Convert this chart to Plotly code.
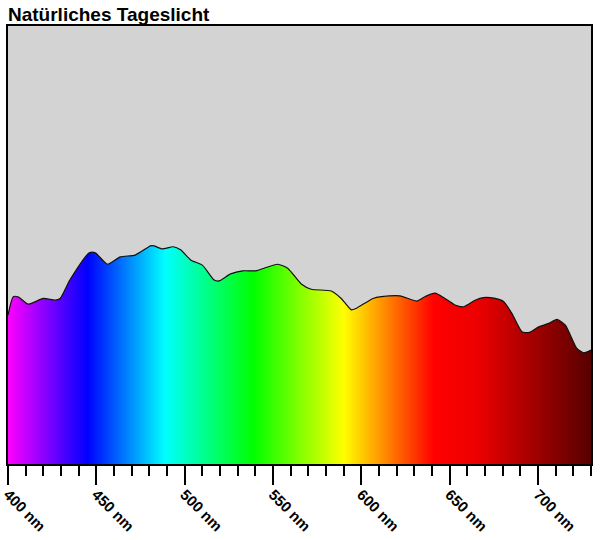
import plotly.graph_objects as go

# Wavelength (nm) and relative intensity
wavelength = [400, 403, 406, 411.5, 420, 426.7, 429.5, 435, 446, 449.4, 456.4, 463.6,
              472, 480.7, 482.6, 487.3, 493.6, 497.7, 503.4, 510, 516.7, 519.5, 526,
              532.8, 540.3, 545, 552.7, 558.3, 566, 571.6, 583, 588.6, 594.3, 597,
              606.6, 611.4, 621.8, 631.3, 636, 641.7, 647.3, 653, 657.8, 664.4, 669.1,
              675.8, 680.5, 685.2, 690.9, 694.7, 700.4, 706, 710.8, 715.5, 722, 725.9, 730]
intensity = [34.0, 38.2, 38.1, 36.5, 37.8, 37.4, 37.8, 42.0, 48.2, 48.2, 45.6, 47.3,
             47.7, 49.8, 49.8, 49.1, 49.6, 48.9, 46.6, 45.4, 42.0, 41.8, 43.4,
             44.1, 44.1, 44.7, 45.6, 44.7, 41.1, 39.9, 39.5, 37.8, 35.2, 35.5,
             37.8, 38.2, 38.4, 37.2, 38.2, 39.0, 37.8, 36.3, 35.9, 37.4, 38.0,
             37.8, 37.1, 34.4, 30.2, 30.0, 31.3, 32.1, 33.0, 31.7, 26.4, 25.4, 26.0]

tick_vals = [400, 450, 500, 550, 600, 650, 700]
tick_text = [f"{v} nm" for v in tick_vals]

# spectrum colour stops (wavelength, colour)
spec_nm = [400, 445, 489, 539, 590, 641, 665, 730]
spec_col = ["#ff00ff", "#0000ff", "#00ffff", "#00ff00", "#ffff00", "#ff0000", "#ee0000", "#580000"]

x_min, x_max = 400, 730
colorscale = [[(w - x_min) / (x_max - x_min), c] for w, c in zip(spec_nm, spec_col)]

fig = go.Figure()
fig.add_trace(go.Scatter(
    x=wavelength, y=intensity,
    mode="lines",
    line=dict(color="#111111", width=1.2, shape="spline", smoothing=0.6),
    fill="tozeroy",
    fillgradient=dict(type="horizontal", colorscale=colorscale, start=x_min, stop=x_max),
    hoverinfo="skip",
    showlegend=False,
))

fig.update_layout(
    width=600, height=540,
    margin=dict(l=8, r=9, t=26, b=76),
    paper_bgcolor="white",
    plot_bgcolor="#d3d3d3",
    font=dict(family="Liberation Sans, Arial, sans-serif", color="black"),
    annotations=[dict(
        text="<b>Natürliches Tageslicht</b>",
        xref="paper", yref="paper", x=0, y=1,
        xanchor="left", yanchor="bottom", showarrow=False,
        font=dict(size=19, color="black"), xshift=-2, yshift=-1,
    )],
)
fig.update_xaxes(
    range=[x_min, x_max], automargin=False,
    showgrid=False, zeroline=False,
    showline=True, linecolor="black", linewidth=2, mirror=True,
    tickmode="array", tickvals=tick_vals, ticktext=[f"<b>{t}</b>" for t in tick_text],
    ticks="outside", ticklen=19, tickwidth=2, tickcolor="black",
    tickangle=45, tickfont=dict(size=15, color="black"), ticklabelstandoff=-5,
    minor=dict(dtick=10, tick0=400, ticks="outside", ticklen=10, tickwidth=2, tickcolor="black", showgrid=False),
)
fig.update_yaxes(
    range=[0, 100], automargin=False,
    showgrid=False, zeroline=False,
    showline=True, linecolor="black", linewidth=2, mirror=True,
    showticklabels=False, ticks="",
)

fig.write_html("out.html", config={"displayModeBar": False},
               post_script="document.body.style.margin='0px';")
